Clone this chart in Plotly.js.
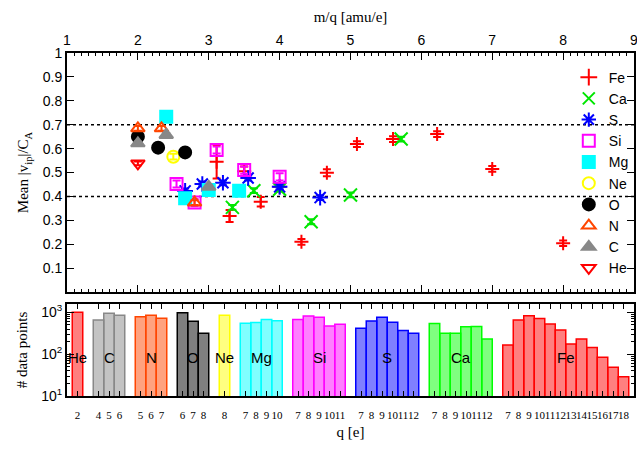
<!DOCTYPE html>
<html>
<head>
<meta charset="utf-8">
<script src="https://cdn.plot.ly/plotly-3.0.1.min.js"></script>
<style>html,body{margin:0;padding:0;background:#fff;}#plot{width:637px;height:452px;}</style>
</head>
<body>
<div id="plot"></div>
<script>
// ---- data ----
const species = ['Fe','Ca','S','Si','Mg','Ne','O','N','C','He'];   // legend / drawing order
const barOrder = ['He','C','N','O','Ne','Mg','Si','S','Ca','Fe'];  // histogram order
const masses = {He:4, C:12, N:14, O:16, Ne:20, Mg:24, Si:28, S:32, Ca:40, Fe:56};

const feQ = [7,8,9,10,11,12,13,14,15,16,17,18];
const feV = [0.204,0.515,0.661,0.640,0.619,0.499,0.210,0.440,0.378,0.505,0.318,0.545];
const feE = [0.012,0.012,0.012,0.012,0.012,0.015,0.012,0.015,0.020,0.020,0.025,0.070];
const feN = [165,660,830,710,525,380,175,230,145,85,49,29];

const caQ = [7,8,9,10,11,12];
const caV = [0.640,0.406,0.294,0.430,0.424,0.354];
const caE = [0.010,0.010,0.010,0.010,0.010,0.010];
const caN = [540,315,315,455,460,230];

const sQ = [7,8,9,10,11,12];
const sV = [0.395,0.440,0.477,0.457,0.452,0.423];
const sE = [0.010,0.010,0.010,0.010,0.010,0.010];
const sN = [415,620,760,580,370,315];

const siQ = [7,8,9,10,11];
const siV = [0.482,0.510,0.594,0.374,0.452];
const siE = [0.015,0.015,0.015,0.015,0.015];
const siN = [680,820,760,470,520];

const mgQ = [7,8,9,10];
const mgV = [0.424,0.427,0.392,0.733];
const mgE = [0.010,0.010,0.010,0.010];
const mgN = [550,570,680,630];

const neQ = [8];
const neV = [0.566];
const neE = [0.012];
const neN = [850];

const oQ = [6,7,8];
const oV = [0.584,0.604,0.650];
const oE = [0.008,0.008,0.008];
const oN = [980,610,315];

const nQ = [5,6,7];
const nV = [0.374,0.685,0.685];
const nE = [0.010,0.010,0.010];
const nN = [790,850,720];

const cQ = [4,5,6];
const cV = [0.440,0.657,0.622];
const cE = [0.008,0.008,0.008];
const cN = [660,950,850];

const heQ = [2];
const heV = [0.538];
const heE = [0.008];
const heN = [1000];

// ---- styles ----
const table = {
  Fe:{q:feQ,v:feV,e:feE,n:feN,color:'#ff0000',sym:'cross-thin-open',size:10,fill:'#ff0000'},
  Ca:{q:caQ,v:caV,e:caE,n:caN,color:'#00e600',sym:'x-thin-open',size:13,fill:'#00ff00'},
  S:{q:sQ,v:sV,e:sE,n:sN,color:'#0000ff',sym:'asterisk-open',size:13,fill:'#0000ff'},
  Si:{q:siQ,v:siV,e:siE,n:siN,color:'#ff00ff',sym:'square-open',size:12,fill:'#ff00ff'},
  Mg:{q:mgQ,v:mgV,e:mgE,n:mgN,color:'#00ffff',sym:'square',size:12,fill:'#00ffff'},
  Ne:{q:neQ,v:neV,e:neE,n:neN,color:'#ffff00',sym:'circle-open',size:12,fill:'#ffff00'},
  O:{q:oQ,v:oV,e:oE,n:oN,color:'#000000',sym:'circle',size:12,fill:'#000000'},
  N:{q:nQ,v:nV,e:nE,n:nN,color:'#ff4500',sym:'triangle-up-open',size:12,fill:'#ff4500'},
  C:{q:cQ,v:cV,e:cE,n:cN,color:'#888888',sym:'triangle-up',size:12,fill:'#888888'},
  He:{q:heQ,v:heV,e:heE,n:heN,color:'#ff0000',sym:'triangle-down-open',size:12,fill:'#ff0000'}
};

function hexA(hex,a){const r=parseInt(hex.slice(1,3),16),g=parseInt(hex.slice(3,5),16),b=parseInt(hex.slice(5,7),16);return `rgba(${r},${g},${b},${a})`;}

const traces = [];
species.forEach(sp => {
  const d = table[sp];
  const m = masses[sp];
  traces.push({
    type:'scatter', mode:'markers', name:sp, xaxis:'x', yaxis:'y',
    x: d.q.map(q => m/q), y: d.v,
    error_y:{type:'data', array:d.e, visible:true, color:d.color, thickness:2, width:4},
    marker:{symbol:d.sym, size:d.size, color:d.color, line:{color:d.color, width:2}},
    cliponaxis:true
  });
});

// histogram slots
const tickVals = [], tickText = [], groupAnn = [];
let slot = 0;
barOrder.forEach(sp => {
  const d = table[sp];
  const xs = d.q.map((q,i) => slot + i);
  xs.forEach((x,i) => {tickVals.push(x); tickText.push(String(d.q[i]));});
  traces.push({
    type:'bar', name:sp+' count', showlegend:false, xaxis:'x2', yaxis:'y2',
    x: xs, y: d.n, width: 1,
    marker:{color:hexA(d.fill,0.5), line:{color:d.fill, width:1.5}},
    hoverinfo:'x+y'
  });
  groupAnn.push({x:(xs[0]+xs[xs.length-1])/2, text:sp});
  slot += d.q.length + 1;
});

const serif = 'Liberation Serif, Times New Roman, serif';
const sans = 'Liberation Sans, Arial, sans-serif';

const annotations = groupAnn.map(g => ({
  x:g.x, xref:'x2', y:0.42, yref:'y2 domain', text:g.text, showarrow:false,
  font:{family:sans, size:15, color:'#000'}, xanchor:'center', yanchor:'middle'
}));

const layout = {
  width:637, height:452,
  margin:{l:67, r:3, t:53, b:56},
  paper_bgcolor:'#fff', plot_bgcolor:'#fff',
  showlegend:true,
  legend:{x:0.885, xanchor:'left', y:0.975, yanchor:'top', bgcolor:'rgba(0,0,0,0)',
          font:{family:sans, size:14, color:'#000'}, tracegroupgap:0, itemsizing:'constant'},
  barmode:'overlay',
  xaxis:{domain:[0,1], anchor:'y', side:'top', range:[1,9], tickvals:[1,2,3,4,5,6,7,8,9],
         ticks:'inside', ticklen:7, tickcolor:'#000', mirror:'ticks', showline:true, linewidth:2, linecolor:'#000',
         showgrid:false, zeroline:false, ticklabeloverflow:'allow',
         minor:{dtick:0.1, tick0:1, ticks:'inside', ticklen:3, tickcolor:'#000', showgrid:false},
         tickfont:{family:sans, size:14, color:'#000'},
         title:{text:'m/q [amu/e]', font:{family:serif, size:15, color:'#000'}, standoff:6}},
  yaxis:{domain:[0.3032,1], anchor:'x', range:[0,1], tickvals:[0.1,0.2,0.3,0.4,0.5,0.6,0.7,0.8,0.9,1],
         ticktext:['0.1','0.2','0.3','0.4','0.5','0.6','0.7','0.8','0.9','1'],
         ticks:'inside', ticklen:7, tickcolor:'#000', mirror:'ticks', showline:true, linewidth:2, linecolor:'#000',
         showgrid:false, zeroline:false,
         tickfont:{family:sans, size:14, color:'#000'},
         title:{text:'Mean |v<sub>ip</sub>|/C<sub>A</sub>', font:{family:serif, size:15, color:'#000'}, standoff:10}},
  xaxis2:{domain:[0,1], anchor:'y2', range:[-1,53], tickvals:tickVals, ticktext:tickText, tickangle:0,
          ticks:'inside', ticklen:5, tickcolor:'#000', mirror:'ticks', showline:true, linewidth:2, linecolor:'#000',
          showgrid:false, zeroline:false, ticklabelstandoff:8,
          tickfont:{family:serif, size:11, color:'#000'},
          title:{text:'q [e]', font:{family:serif, size:15, color:'#000'}, standoff:6}},
  yaxis2:{domain:[0,0.2682], anchor:'x2', type:'log', range:[1,3.2], tickvals:[10,100,1000],
          ticktext:['10<sup>1</sup>','10<sup>2</sup>','10<sup>3</sup>'],
          ticks:'inside', ticklen:7, tickcolor:'#000', mirror:'ticks', showline:true, linewidth:2, linecolor:'#000',
          showgrid:false, zeroline:false,
          minor:{ticks:'inside', ticklen:3, tickcolor:'#000', dtick:'D1', showgrid:false},
          tickfont:{family:sans, size:14, color:'#000'},
          title:{text:'# data points', font:{family:serif, size:15, color:'#000'}, standoff:10}},
  shapes:[
    {type:'line', xref:'x', yref:'y', x0:1, x1:9, y0:0.7, y1:0.7, layer:'below', line:{color:'#000', width:1.5, dash:'dot'}},
    {type:'line', xref:'x', yref:'y', x0:1, x1:9, y0:0.4, y1:0.4, layer:'below', line:{color:'#000', width:1.5, dash:'dot'}}
  ],
  annotations: annotations
};

Plotly.newPlot('plot', traces, layout, {displayModeBar:false, staticPlot:true});
</script>
</body>
</html>
